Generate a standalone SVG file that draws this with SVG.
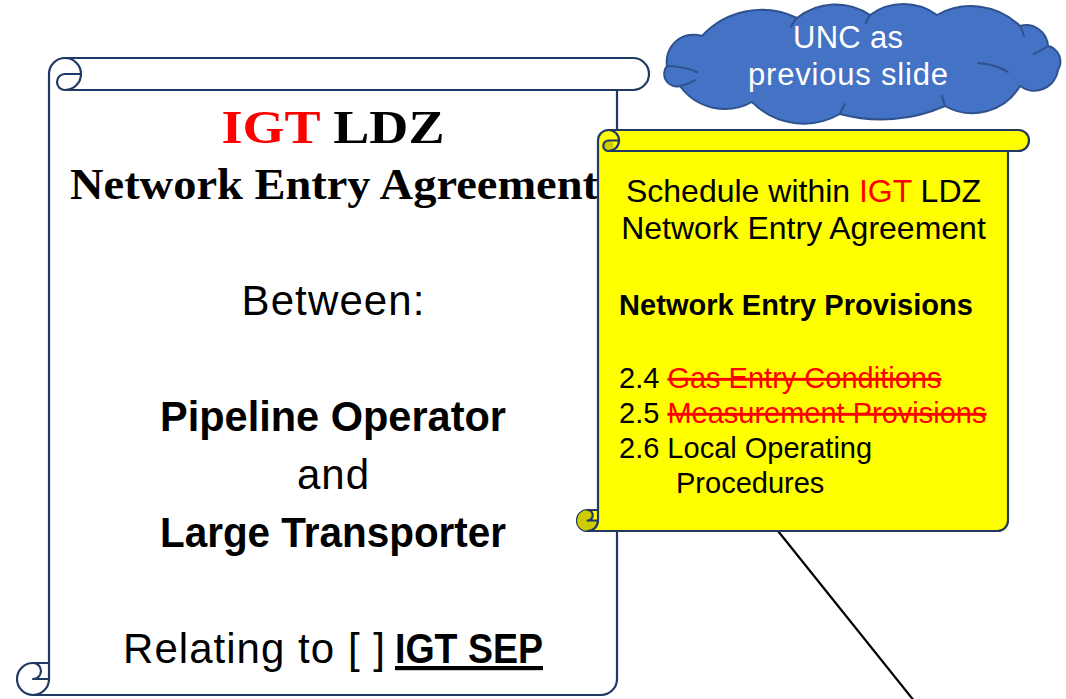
<svg xmlns="http://www.w3.org/2000/svg" width="1066" height="699" viewBox="0 0 1066 699">
<style>
.scroll{stroke:#203864;stroke-width:2.2;stroke-linejoin:round;stroke-linecap:round}
.det{fill:none;stroke:#203864;stroke-width:2.2;stroke-linejoin:round;stroke-linecap:round}
.dark{fill:#CCCC00;stroke:none}
.goth{font-family:"Liberation Serif","Times New Roman",serif;font-weight:bold}
.cal{font-family:"Liberation Sans",Arial,sans-serif;font-size:42px;fill:#000;text-anchor:middle}
.calL{font-family:"Liberation Sans",Arial,sans-serif;font-size:42px;fill:#000;text-anchor:start}
.cloudtxt{font-family:"Liberation Sans",Arial,sans-serif;font-size:31px;fill:#fff;text-anchor:middle}
.ys{font-family:"Liberation Sans",Arial,sans-serif;fill:#000}
.red{fill:#FF0000}
.strike{fill:#FF0000;text-decoration:line-through}
</style>
<rect width="1066" height="699" fill="#fff"/>

<g id="agreement-scroll">
  <path class="scroll" fill="#fff" d="M 49,663 L 49,74 A 16 16 0 0 1 65,58 L 633,58 A 16 16 0 0 1 633,90 L 617,90 L 617,679 A 16 16 0 0 1 601,695 L 33,695 A 16 16 0 0 1 33,663 Z"/>
  <path class="det" d="M 65,58 A 16 16 0 0 1 65,90 A 8 8 0 0 1 65,74 L 81,74 M 617,90 L 65,90 M 33,663 A 8 8 0 0 1 33,679 L 49,679 M 33,695 A 16 16 0 0 0 49,679 L 49,663"/>
  <text class="goth" x="333" y="143" font-size="46" text-anchor="middle" textLength="223" lengthAdjust="spacingAndGlyphs"><tspan class="red">IGT</tspan> LDZ</text>
  <text class="goth" x="70" y="199" font-size="44" textLength="528" lengthAdjust="spacingAndGlyphs">Network Entry Agreement</text>
  <text class="cal" x="333" y="315" textLength="183">Between:</text>
  <text class="cal" x="333" y="431" font-weight="bold" textLength="346" lengthAdjust="spacingAndGlyphs">Pipeline Operator</text>
  <text class="cal" x="333" y="489" textLength="72">and</text>
  <text class="cal" x="333" y="547" font-weight="bold" textLength="346" lengthAdjust="spacingAndGlyphs">Large Transporter</text>
  <text class="calL" x="123" y="663" textLength="262">Relating to [ ]</text>
  <text class="calL" x="395" y="663" font-weight="bold" text-decoration="underline" textLength="148" lengthAdjust="spacingAndGlyphs">IGT SEP</text>
</g>

<g id="connectors">
  <line x1="774" y1="526" x2="915" y2="702" stroke="#000" stroke-width="2.2"/>
</g>

<g id="schedule-scroll">
  <path class="scroll" fill="#FFFF00" d="M 598,510 L 598,140.5 A 10.5 10.5 0 0 1 608.5,130 L 1018.5,130 A 10.5 10.5 0 0 1 1018.5,151 L 1008,151 L 1008,520.5 A 10.5 10.5 0 0 1 997.5,531 L 587.5,531 A 10.5 10.5 0 0 1 587.5,510 Z"/>
  <circle class="dark" cx="608.5" cy="145.75" r="5.25"/>
  <path class="dark" d="M 587.5,510 A 5.25 5.25 0 0 1 587.5,520.5 L 598,520.5 A 10.5 10.5 0 0 1 587.5,531 A 10.5 10.5 0 0 1 587.5,510 Z"/>
  <path class="det" d="M 608.5,130 A 10.5 10.5 0 0 1 608.5,151 A 5.25 5.25 0 0 1 608.5,140.5 L 619,140.5 M 1008,151 L 608.5,151 M 587.5,510 A 5.25 5.25 0 0 1 587.5,520.5 L 598,520.5 M 587.5,531 A 10.5 10.5 0 0 0 598,520.5 L 598,510"/>
  <text class="ys" x="803.5" y="202" font-size="32" text-anchor="middle">Schedule within <tspan class="red">IGT</tspan> LDZ</text>
  <text class="ys" x="803.5" y="239" font-size="32" text-anchor="middle">Network Entry Agreement</text>
  <text class="ys" x="619" y="315" font-size="29" font-weight="bold" textLength="354">Network Entry Provisions</text>
  <text class="ys" x="619" y="388" font-size="29">2.4 <tspan class="strike">Gas Entry Conditions</tspan></text>
  <text class="ys" x="619" y="423" font-size="29">2.5 <tspan class="strike">Measurement Provisions</tspan></text>
  <text class="ys" x="619" y="458" font-size="29">2.6 Local Operating</text>
  <text class="ys" x="676" y="493" font-size="29">Procedures</text>
</g>

<g id="unc-cloud">
  <path fill="#4472C4" stroke="#2F528F" stroke-width="2" stroke-linejoin="round"
    d="M 680,86 A 12.5 12.5 0 0 1 667,66 A 27 27 0 0 1 702,36 A 81 81 0 0 1 797,18 A 61.5 61.5 0 0 1 870,15 A 56.5 56.5 0 0 1 937,15 A 70 70 0 0 1 1020,26 A 22 22 0 0 1 1048,46 A 16 16 0 0 1 1058,70 A 24 24 0 0 1 1020,86 A 55.4 55.4 0 0 1 945,106 A 158 158 0 0 1 840,114 A 73 73 0 0 1 752,102 A 55.6 55.6 0 0 1 680,86 Z"/>
  <path fill="none" stroke="#2F528F" stroke-width="2" stroke-linecap="round"
    d="M 667,66 Q 683,66 697,72 M 680,86 Q 689,84 695,80 M 978,63 Q 995,64 1008,72 M 1034,54 Q 1042,50 1048,46 M 1020,26 Q 1023,31 1024,36 M 797,18 Q 793,22 791,27 M 870,15 Q 867,19 866,23 M 840,114 Q 842,108 845,104 M 945,106 Q 943,100 942,96"/>
  <text class="cloudtxt" x="848" y="48" textLength="110">UNC as</text>
  <text class="cloudtxt" x="848" y="85" textLength="200">previous slide</text>
</g>
</svg>
